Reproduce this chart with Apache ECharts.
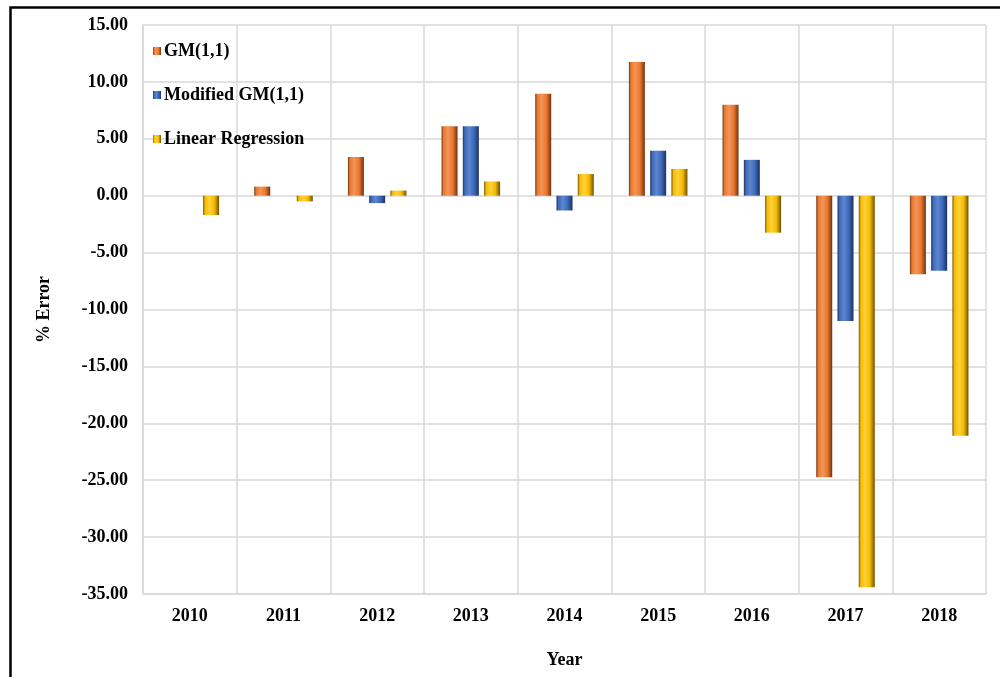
<!DOCTYPE html>
<html>
<head>
<meta charset="utf-8">
<script src="https://cdn.jsdelivr.net/npm/echarts@6/dist/echarts.min.js"></script>
<style>
  html, body { margin: 0; padding: 0; background: #fff; }
  #chart { width: 1000px; height: 677px; }
</style>
</head>
<body>
<div id="chart"></div>
<script>
var years = ['2010', '2011', '2012', '2013', '2014', '2015', '2016', '2017', '2018'];
var gm = [0, 0.8, 3.4, 6.1, 8.95, 11.75, 8.0, -24.75, -6.9];
var modifiedGm = [0, 0, -0.65, 6.1, -1.3, 3.95, 3.15, -11.0, -6.6];
var linearReg = [-1.7, -0.5, 0.45, 1.25, 1.9, 2.35, -3.25, -34.4, -21.1];

var font = '"Liberation Serif", "DejaVu Serif", serif';

function barColor(light, base, dark) {
    return new echarts.graphic.LinearGradient(0, 0, 1, 0, [
        { offset: 0, color: dark },
        { offset: 0.12, color: base },
        { offset: 0.4, color: light },
        { offset: 0.7, color: base },
        { offset: 1, color: dark }
    ]);
}

function makeSeries(name, data, light, base, dark) {
    return {
        name: name,
        type: 'bar',
        data: data,
        barWidth: 16,
        barGap: '33%',
        itemStyle: { color: barColor(light, base, dark) }
    };
}

var chart = echarts.init(document.getElementById('chart'));
var option = {
    backgroundColor: '#fff',
    animation: false,
    graphic: [{
        type: 'rect',
        left: 8, top: 5,
        shape: { width: 1000, height: 700 },
        style: { fill: 'none', stroke: '#000', lineWidth: 2.5 }
    }],
    legend: {
        orient: 'vertical',
        left: 148,
        top: 37,
        itemGap: 26,
        itemWidth: 8,
        itemHeight: 8,
        icon: 'rect',
        textStyle: { fontFamily: font, fontWeight: 'bold', fontSize: 18, color: '#000', padding: [0, 0, 0, -2] },
        data: ['GM(1,1)', 'Modified GM(1,1)', 'Linear Regression']
    },
    grid: { left: 143, right: 14, top: 25, bottom: 83, containLabel: false },
    xAxis: {
        type: 'category',
        data: years,
        position: 'bottom',
        name: 'Year',
        nameLocation: 'middle',
        nameGap: 57,
        nameTextStyle: { fontFamily: font, fontWeight: 'bold', fontSize: 18, color: '#000' },
        axisLine: { onZero: false, lineStyle: { color: '#d9d9d9', width: 1.5 } },
        axisTick: { show: false },
        axisLabel: { fontFamily: font, fontWeight: 'bold', fontSize: 18, color: '#000', margin: 13 },
        splitLine: { show: true, lineStyle: { color: '#d9d9d9', width: 1.5 } }
    },
    yAxis: {
        type: 'value',
        min: -35,
        max: 15,
        interval: 5,
        name: '% Error',
        nameLocation: 'middle',
        nameGap: 90,
        nameRotate: 90,
        nameTextStyle: { fontFamily: font, fontWeight: 'bold', fontSize: 18, color: '#000' },
        axisLine: { show: true, lineStyle: { color: '#d9d9d9', width: 1.5 } },
        axisTick: { show: false },
        axisLabel: {
            fontFamily: font, fontWeight: 'bold', fontSize: 18, color: '#000', margin: 15,
            formatter: function (v) { return v.toFixed(2); }
        },
        splitLine: { show: true, lineStyle: { color: '#d9d9d9', width: 1.5 } }
    },
    series: [
        makeSeries('GM(1,1)', gm, '#f39558', '#e9772f', '#6e3410'),
        makeSeries('Modified GM(1,1)', modifiedGm, '#5d86cf', '#3d69b8', '#1b3160'),
        makeSeries('Linear Regression', linearReg, '#ffd13a', '#f5bb00', '#6e5200')
    ]
};
chart.setOption(option);
</script>
</body>
</html>
